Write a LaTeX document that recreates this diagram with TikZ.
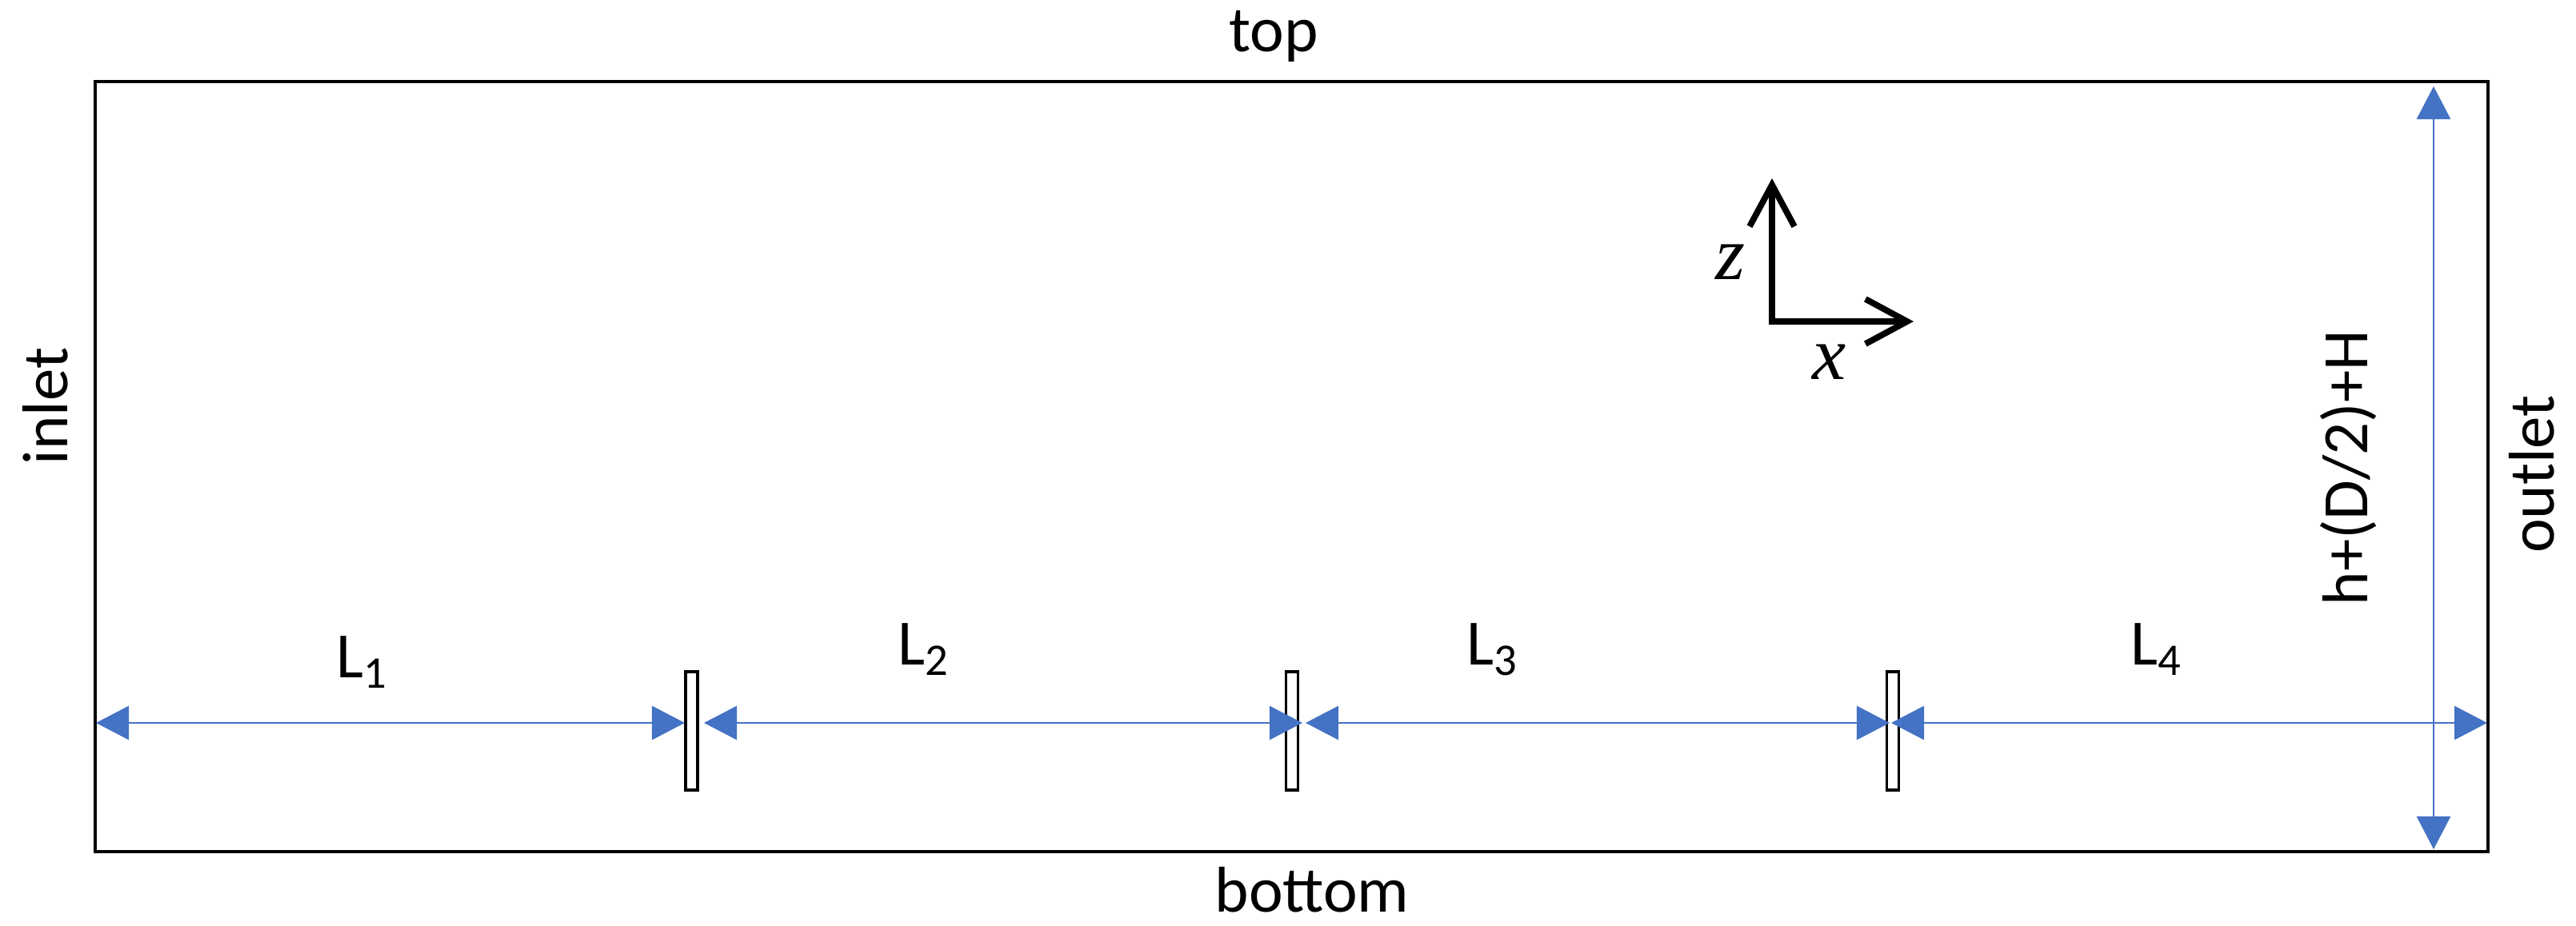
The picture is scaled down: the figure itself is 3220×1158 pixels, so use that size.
\documentclass[tikz,border=0pt]{standalone}
\usepackage{fontspec}
\setmainfont{Carlito}
\newfontfamily\axisfont{Liberation Serif}
\usepackage{xcolor}
\usetikzlibrary{arrows.meta}
\definecolor{dimblue}{HTML}{4472C4}

\begin{document}
\begin{tikzpicture}[x=0.01cm, y=-0.01cm,
        every node/.style={font=\fontsize{23}{28}\selectfont, inner sep=0pt},
        plate/.style={draw, line width=1pt, fill=white, minimum width=0.15cm,
        minimum height=1.48cm},
        dim/.style={draw=dimblue, line width=0.8pt,
        {Triangle[length=0.41cm, width=0.42cm]}-{Triangle[length=0.41cm, width=0.42cm]}},
        axis/.style={line width=2.2pt, line join=miter,
        {Straight Barb[length=0.52cm, width=0.56cm]}-{Straight Barb[length=0.52cm, width=0.56cm]}}]
        \useasboundingbox (0,0) rectangle (3220,1158);

        \node[draw, line width=1.15pt, minimum width=29.89cm, minimum height=9.63cm] (domain) at (1614.5,583.5) {};

        \node (top) at (1592,45) {top};
        \node[anchor=base] (bottom) at (1640,1140) {bottom};
        \node[rotate=90, anchor=base] (inlet) at (84,508) {inlet};
        \node[rotate=90, anchor=base] (outlet) at (3192,593) {outlet};
        \node[rotate=90, anchor=base] (height) at (2959,585) {h+(D/2)+H};

        \node[plate] (P1) at (864.5,914) {};
        \node[plate] (P2) at (1615,914) {};
        \node[plate] (P3) at (2366,914) {};

        \coordinate (D0) at (120,904);
        \coordinate (D1) at (856,904);
        \coordinate (D2) at (880,904);
        \coordinate (D3) at (1628,904);
        \coordinate (D4) at (1632,904);
        \coordinate (D5) at (2362,904);
        \coordinate (D6) at (2364,904);
        \coordinate (D7) at (3109,904);
        \coordinate (V0) at (3042,108);
        \coordinate (V1) at (3042,1062);

        \draw[dim] (D0) -- (D1);
        \draw[dim] (D2) -- (D3);
        \draw[dim] (D4) -- (D5);
        \draw[dim] (D6) -- (D7);
        \draw[dim] (V0) -- (V1);

        \node[anchor=base west] (L1) at (420,847) {L\textsubscript{1}};
        \node[anchor=base west] (L2) at (1122,831) {L\textsubscript{2}};
        \node[anchor=base west] (L3) at (1833,831) {L\textsubscript{3}};
        \node[anchor=base west] (L4) at (2663,831) {L\textsubscript{4}};

        \coordinate (O) at (2215,402);
        \coordinate (Z) at (2215,223);
        \coordinate (X) at (2392,402);
        \draw[axis] (Z) -- (O) -- (X);
        \node[font=\axisfont\itshape\fontsize{27}{32}\selectfont] (zlabel) at (2163,328) {z};
        \node[font=\axisfont\itshape\fontsize{27}{32}\selectfont] (xlabel) at (2287,453) {x};
    \end{tikzpicture}
\end{document}
